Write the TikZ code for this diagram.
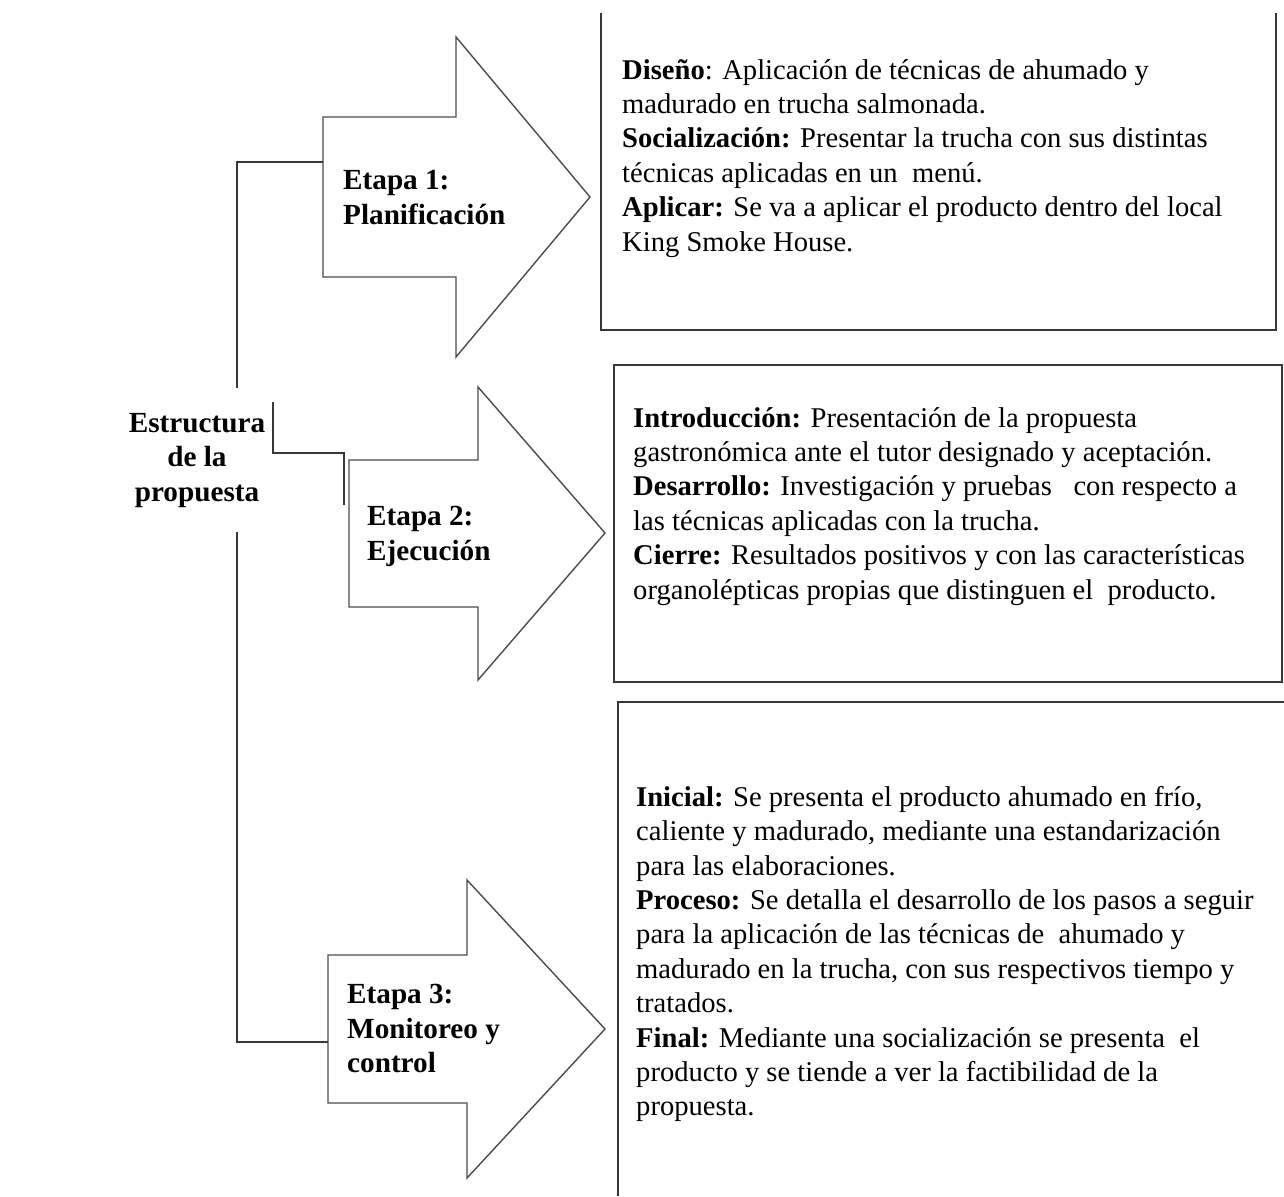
\documentclass[tikz,border=0pt]{standalone}
\usepackage{fontspec}
\setmainfont{Liberation Serif}
\begin{document}
\begin{tikzpicture}[x=1pt,y=-1pt,
  ln/.style={draw=black!78, line width=1.4pt},
  arr/.style={draw=black!70, line width=1.4pt, fill=white, line join=miter},
  boxtxt/.style={anchor=north west, inner sep=0pt, align=left, font=\fontsize{28.6}{34.4}\selectfont},
  lbl/.style={anchor=north west, inner sep=0pt, align=left, font=\fontsize{29.2}{34.6}\selectfont\bfseries}]
\useasboundingbox (0,0) rectangle (1284,1196);
\fill[white] (0,0) rectangle (1284,1196);

% boxes
\draw[ln] (601,13) -- (601,330) -- (1276,330) -- (1276,13);
\draw[ln] (614,365) rectangle (1282,682);
\draw[ln] (1284,702) -- (618,702) -- (618,1196);

% arrows
\draw[arr] (323,117) -- (456,117) -- (456,37) -- (590,197) -- (456,357) -- (456,277) -- (323,277) -- cycle;
\draw[arr] (349,460) -- (478,460) -- (478,387) -- (605,533) -- (478,680) -- (478,607) -- (349,607) -- cycle;
\draw[arr] (328,955) -- (467,955) -- (467,880) -- (605,1029) -- (467,1178) -- (467,1103) -- (328,1103) -- cycle;

% named coordinates for connectors
\coordinate (a1) at (323,162);
\coordinate (a1c) at (237,162);
\coordinate (e1) at (237,388);
\coordinate (b1) at (273,402);
\coordinate (b1c) at (273,453);
\coordinate (b2c) at (344,453);
\coordinate (b2) at (344,505);
\coordinate (e3) at (237,532);
\coordinate (a3c) at (237,1042);
\coordinate (a3) at (328,1042);

\draw[ln] (a1) -- (a1c) -- (e1);
\draw[ln] (b1) -- (b1c) -- (b2c) -- (b2);
\draw[ln] (e3) -- (a3c) -- (a3);

% labels
\node[lbl, anchor=north, align=center] (est) at (197,413) {Estructura\\de la\\propuesta};
\node[lbl] (et1) at (343,170) {Etapa 1:\\Planificación};
\node[lbl] (et2) at (367,506) {Etapa 2:\\Ejecución};
\node[lbl] (et3) at (347,984) {Etapa 3:\\Monitoreo y\\control};

% box texts
\node[boxtxt] (t1) at (622,59) {\textbf{Diseño}: Aplicación de técnicas de ahumado y\\
madurado en trucha salmonada.\\
\textbf{Socialización:} Presentar la trucha con sus distintas\\
técnicas aplicadas en un\ \ menú.\\
\textbf{Aplicar:} Se va a aplicar el producto dentro del local\\
King Smoke House.};

\node[boxtxt] (t2) at (633,407) {\textbf{Introducción:} Presentación de la propuesta\\
gastronómica ante el tutor designado y aceptación.\\
\textbf{Desarrollo:} Investigación y pruebas\ \ \ con respecto a\\
las técnicas aplicadas con la trucha.\\
\textbf{Cierre:} Resultados positivos y con las características\\
organolépticas propias que distinguen el\ \ producto.};

\node[boxtxt] (t3) at (636,786) {\textbf{Inicial:} Se presenta el producto ahumado en frío,\\
caliente y madurado, mediante una estandarización\\
para las elaboraciones.\\
\textbf{Proceso:} Se detalla el desarrollo de los pasos a seguir\\
para la aplicación de las técnicas de\ \ ahumado y\\
madurado en la trucha, con sus respectivos tiempo y\\
tratados.\\
\textbf{Final:} Mediante una socialización se presenta\ \ el\\
producto y se tiende a ver la factibilidad de la\\
propuesta.};
\end{tikzpicture}
\end{document}
